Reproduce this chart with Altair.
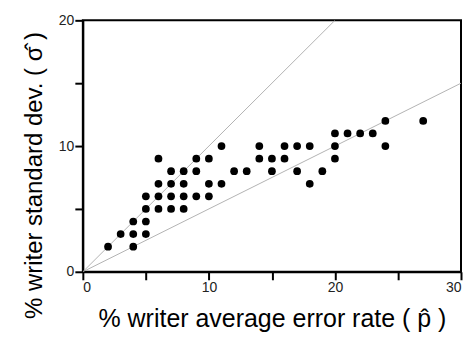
import altair as alt
import pandas as pd

# writer data: average error rate (x) and standard deviation (y), in %
p_hat = [2, 4,
         3, 4, 5,
         4, 5,
         5, 6, 7, 8,
         5, 6, 7, 8, 9, 10,
         6, 7, 8, 10, 11, 18,
         7, 8, 9, 12, 13, 15, 17, 19,
         6, 9, 10, 14, 15, 16, 20,
         11, 14, 16, 17, 18, 20, 24,
         20, 21, 22, 23,
         24, 27]
sigma_hat = [2, 2,
             3, 3, 3,
             4, 4,
             5, 5, 5, 5,
             6, 6, 6, 6, 6, 6,
             7, 7, 7, 7, 7, 7,
             8, 8, 8, 8, 8, 8, 8, 8,
             9, 9, 9, 9, 9, 9, 9,
             10, 10, 10, 10, 10, 10, 10,
             11, 11, 11, 11,
             12, 12]

# reference lines through the origin
line_id = ["a", "a", "b", "b"]
line_x = [0, 20, 0, 30]
line_y = [0, 20, 0, 15]

x_ticks = [0, 5, 10, 15, 20, 25, 30]
y_ticks = [0, 5, 10, 15, 20]

pts = pd.DataFrame({"p": p_hat, "s": sigma_hat})
lines = pd.DataFrame({"id": line_id, "p": line_x, "s": line_y})

xscale = alt.Scale(domain=[0, 30], nice=False, zero=False)
yscale = alt.Scale(domain=[0, 20], nice=False, zero=False)

FONT = "Liberation Sans"
MAJOR = "datum.value % 10 === 0"

x_axis = alt.Axis(values=x_ticks, title="% writer average error rate ( p\u0302 )",
                  labelExpr=f"{MAJOR} ? datum.label : ''",
                  titleFontSize=25, titlePadding=12)
y_axis = alt.Axis(values=y_ticks, title="% writer standard dev. ( \u03c3\u0302 )",
                  labelExpr=f"{MAJOR} ? datum.label : ''",
                  titleFontSize=24, titlePadding=12, titleY=155)

xenc = alt.X("p:Q", scale=xscale, axis=x_axis)
yenc = alt.Y("s:Q", scale=yscale, axis=y_axis)

line_layer = alt.Chart(lines).mark_line(color="#aaaaaa", strokeWidth=0.9, clip=True).encode(
    x=xenc, y=yenc, detail="id:N")

point_layer = alt.Chart(pts).mark_point(filled=True, color="black", opacity=1, size=60,
                                        shape="circle").encode(x=xenc, y=yenc)

chart = alt.layer(line_layer, point_layer).properties(
    width=379, height=252,
    autosize=alt.AutoSizeParams(type="none"),
    padding={"left": 75, "top": 12, "right": 2, "bottom": 68},
).configure_view(stroke="black", strokeWidth=2).configure_axis(
    ticks=True, tickSize=8, tickWidth=2, tickColor="black",
    domainWidth=2, domainColor="black",
    labelFontSize=14, labelColor="#222", labelFont=FONT, labelPadding=1,
    titleFont=FONT, titleFontWeight="normal", titleColor="black",
    gridOpacity=0,
)

chart.save("out.html", embed_options={"renderer": "svg", "actions": False})
